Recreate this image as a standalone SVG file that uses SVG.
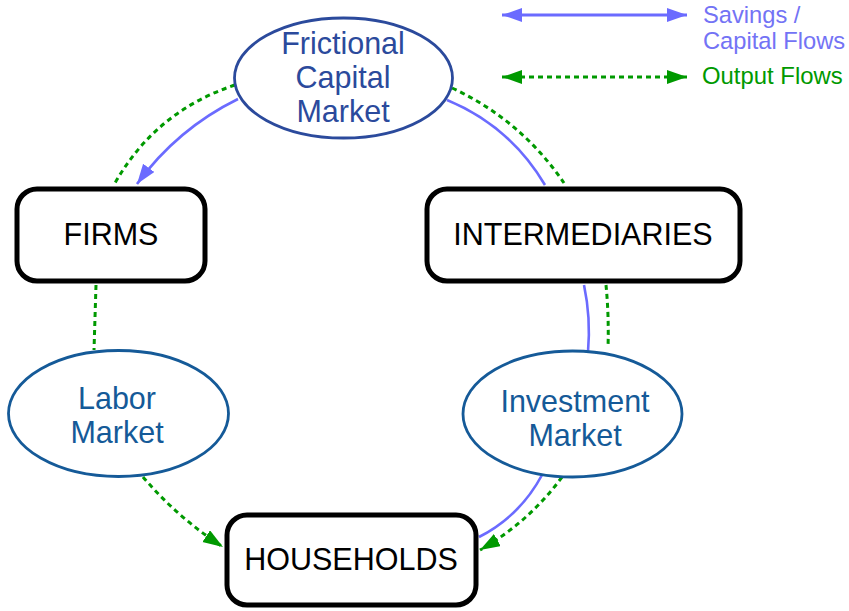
<svg xmlns="http://www.w3.org/2000/svg" width="849" height="611" viewBox="0 0 849 611">
  <defs>
    <style>
      .box { fill: #ffffff; stroke: #000000; stroke-width: 5; }
      .boxtext { font-family: "Liberation Sans", Arial, sans-serif; font-size: 30.5px; fill: #000000; text-anchor: middle; }
      .topmkt { fill: #ffffff; stroke: #2B4A9C; stroke-width: 2.8; }
      .topmkt-text { font-family: "Liberation Sans", Arial, sans-serif; font-size: 30.5px; fill: #2B4A9C; text-anchor: middle; }
      .mkt { fill: #ffffff; stroke: #155A98; stroke-width: 2.8; }
      .mkt-text { font-family: "Liberation Sans", Arial, sans-serif; font-size: 30.5px; fill: #155A98; text-anchor: middle; }
      .capital { fill: none; stroke: #6B6BFF; stroke-width: 2.6; }
      .output { fill: none; stroke: #009900; stroke-width: 3; stroke-dasharray: 5 4; }
      .legend-cap { font-family: "Liberation Sans", Arial, sans-serif; font-size: 23.7px; fill: #7373F5; }
      .legend-out { font-family: "Liberation Sans", Arial, sans-serif; font-size: 23.9px; fill: #009900; }
    </style>
    <marker id="head-blue" markerUnits="userSpaceOnUse" markerWidth="22" markerHeight="16" refX="20" refY="7" orient="auto-start-reverse">
      <path d="M0,0 L20,7 L0,14 z" fill="#6B6BFF"/>
    </marker>
    <marker id="head-green" markerUnits="userSpaceOnUse" markerWidth="22" markerHeight="16" refX="20" refY="7" orient="auto-start-reverse">
      <path d="M0,0 L20,7 L0,14 z" fill="#009900"/>
    </marker>
  </defs>

  <rect width="849" height="611" fill="#ffffff"/>

  <!-- flows between the markets and sectors -->
  <g id="connectors">
    <!-- savings / capital flows -->
    <path class="capital" d="M238,99 Q177,129 137,184" marker-end="url(#head-blue)"/>
    <path class="capital" d="M447,100 Q510,126 545,185"/>
    <path class="capital" d="M584,285 Q591,318 588,352"/>
    <path class="capital" d="M542,475 Q520,516 479,537"/>
    <!-- output flows -->
    <path class="output" d="M235,85 Q156,111 115,183"/>
    <path class="output" d="M452,88 Q521,120 564,183"/>
    <path class="output" d="M606,285 Q609,316 608,348"/>
    <path class="output" d="M96,285 L94,350"/>
    <path class="output" d="M143,477 Q178,518 223,547" marker-end="url(#head-green)"/>
    <path class="output" d="M562,477 Q529,522 480,550" marker-end="url(#head-green)"/>
  </g>

  <g id="capital-market">
    <ellipse class="topmkt" cx="343.5" cy="78" rx="109" ry="60"/>
    <text class="topmkt-text" x="343" y="54">Frictional</text>
    <text class="topmkt-text" x="343" y="88">Capital</text>
    <text class="topmkt-text" x="343" y="122">Market</text>
  </g>

  <g id="firms">
    <rect class="box" x="17" y="189" width="188" height="92" rx="20" ry="20"/>
    <text class="boxtext" x="111" y="245">FIRMS</text>
  </g>

  <g id="intermediaries">
    <rect class="box" x="427" y="189" width="313" height="92" rx="20" ry="20"/>
    <text class="boxtext" x="583" y="245">INTERMEDIARIES</text>
  </g>

  <g id="labor-market">
    <ellipse class="mkt" cx="118.5" cy="413.5" rx="110" ry="63"/>
    <text class="mkt-text" x="117" y="409">Labor</text>
    <text class="mkt-text" x="117" y="443">Market</text>
  </g>

  <g id="investment-market">
    <ellipse class="mkt" cx="572.5" cy="414" rx="109.5" ry="63"/>
    <text class="mkt-text" x="575" y="412">Investment</text>
    <text class="mkt-text" x="575" y="446">Market</text>
  </g>

  <g id="households">
    <rect class="box" x="227" y="515" width="249" height="90" rx="20" ry="20"/>
    <text class="boxtext" x="351" y="570">HOUSEHOLDS</text>
  </g>

  <g id="legend">
    <path class="capital" style="stroke-width:3" d="M502,15 L687,15" marker-start="url(#head-blue)" marker-end="url(#head-blue)"/>
    <text class="legend-cap" x="703" y="23">Savings /</text>
    <text class="legend-cap" x="703" y="49">Capital Flows</text>
    <path class="output" d="M502,77 L687,77" marker-start="url(#head-green)" marker-end="url(#head-green)"/>
    <text class="legend-out" x="702" y="84">Output Flows</text>
  </g>
</svg>
